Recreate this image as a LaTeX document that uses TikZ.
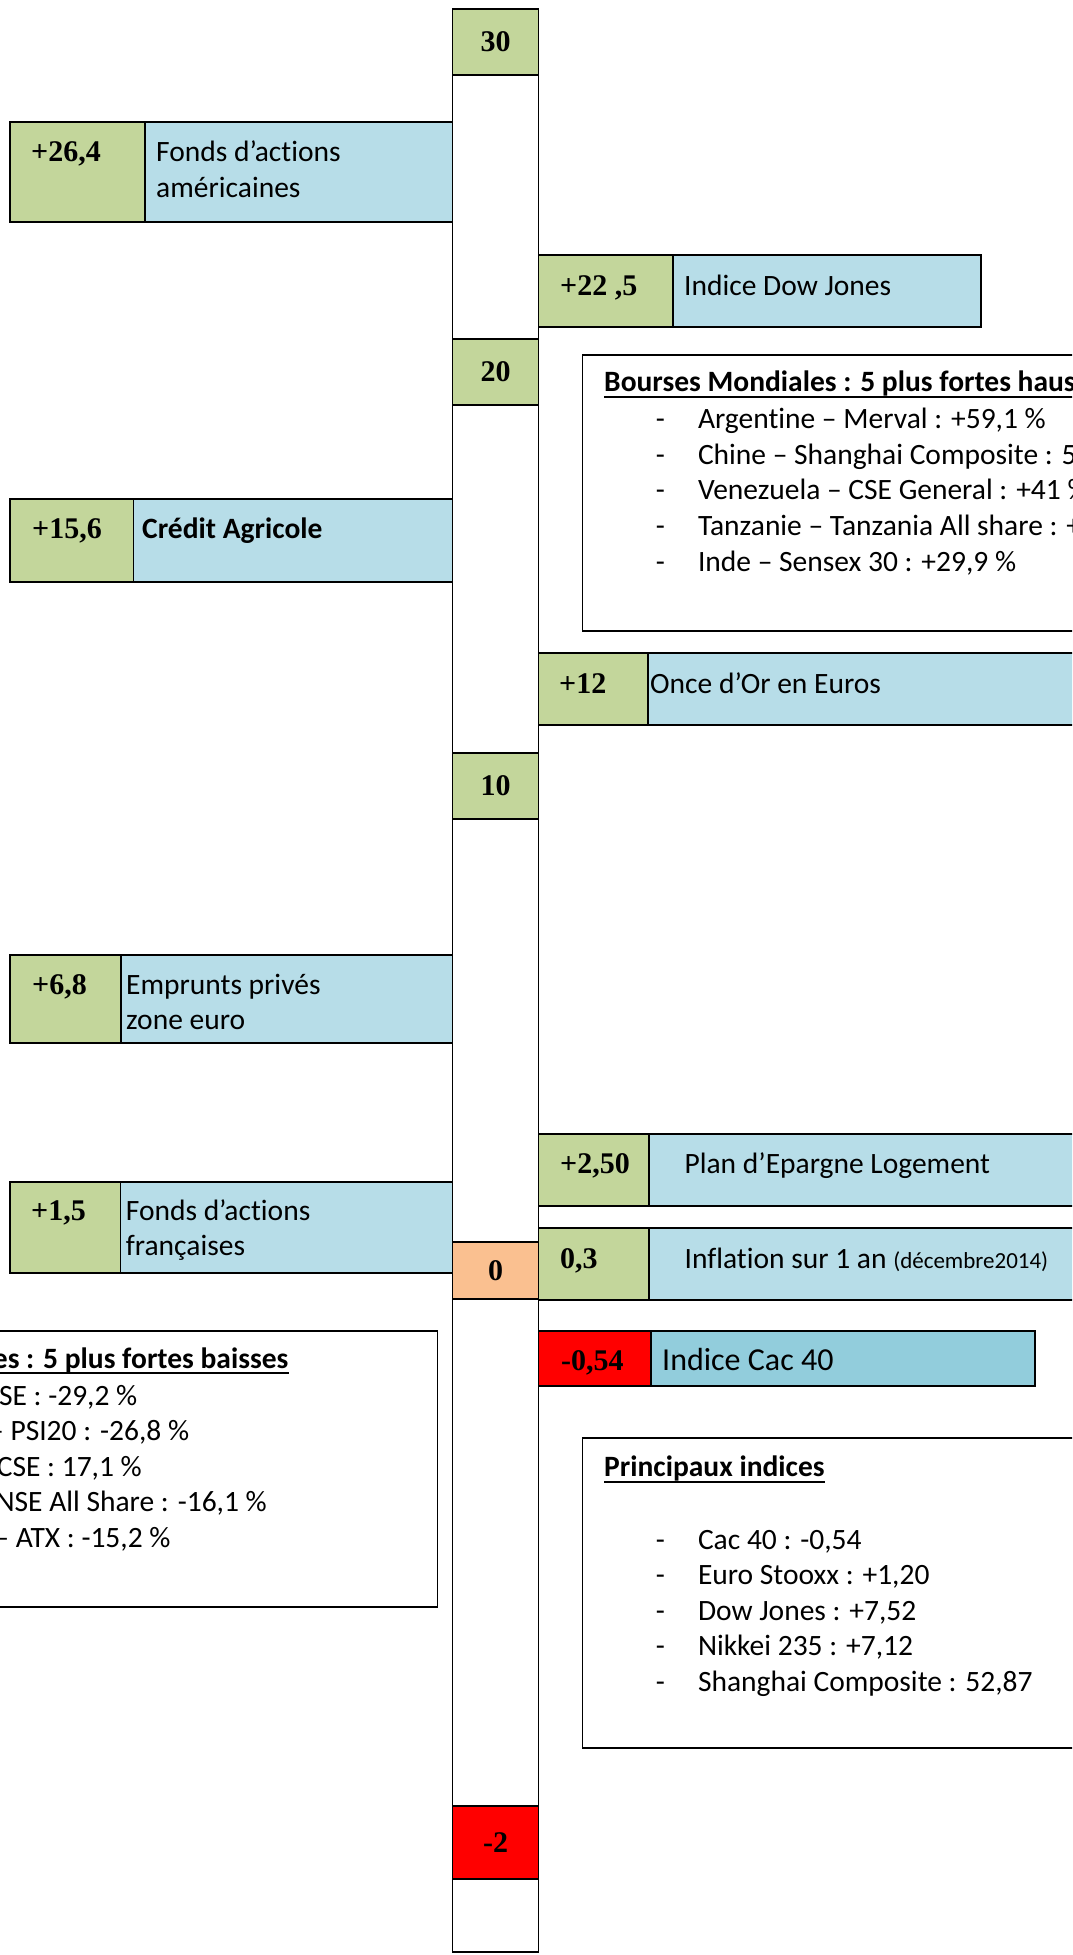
\documentclass[tikz,border=0pt]{standalone}
\usepackage{fontspec}
\setmainfont{Carlito}[Ligatures=NoCommon]
\newfontfamily\valfont{Liberation Serif}
\usetikzlibrary{positioning}
\definecolor{valgreen}{RGB}{195,214,155}
\definecolor{labblue}{RGB}{183,221,232}
\definecolor{cacblue}{RGB}{146,205,220}
\definecolor{zeroorange}{RGB}{250,192,144}
\tikzset{
  cell/.style={draw, line width=1.5pt, inner sep=0pt, outer sep=0pt},
  valbox/.style={cell, fill=valgreen},
  negbox/.style={cell, fill=red},
  labbox/.style={cell, fill=labblue},
  infobox/.style={cell, fill=white, anchor=north west},
  valtext/.style={font=\valfont\bfseries\fontsize{30}{36}\selectfont, inner sep=0pt},
  labtext/.style={font=\fontsize{29.5}{36}\selectfont, inner sep=0pt, anchor=base west},
  heading/.style={labtext, font=\bfseries\fontsize{29.5}{36}\selectfont},
  uline/.style={line width=1.8pt}
}

\begin{document}
\begin{tikzpicture}[x=1pt, y=-1pt]
  \useasboundingbox (0,0) rectangle (1072,1955);
  \clip (0,0) rectangle (1072,1955);

  % axe et graduations
  \node[cell, fill=white, anchor=north west, minimum width=86pt, minimum height=1943pt] (axis) at (452.5,9) {};
  \node[valbox, valtext, anchor=north west, minimum width=86pt, minimum height=66pt] (s30) at (452.5,9) {30};
  \node[valbox, valtext, anchor=north west, minimum width=86pt, minimum height=66pt] (s20) at (452.5,339) {20};
  \node[valbox, valtext, anchor=north west, minimum width=86pt, minimum height=66pt] (s10) at (452.5,753) {10};
  \node[cell, fill=zeroorange, valtext, anchor=north west, minimum width=86pt, minimum height=57pt] (s0) at (452.5,1242) {0};
  \node[negbox, valtext, anchor=north west, minimum width=86pt, minimum height=73pt] (sm2) at (452.5,1806) {-2};

  % barres a gauche
  \node[valbox, anchor=north west, minimum width=135pt, minimum height=100pt] (v264) at (10,122) {};
  \node[labbox, right=0pt of v264, minimum width=307.5pt, minimum height=100pt] (l264) {};
  \node[valtext, anchor=base west] (t264) at (31,161) {+26,4};
  \node[labtext] (n264a) at (156,161) {Fonds d’actions};
  \node[labtext] (n264b) at (156,197) {américaines};

  \node[valbox, anchor=north west, minimum width=123.3pt, minimum height=83pt] (v156) at (10,499) {};
  \node[labbox, right=0pt of v156, minimum width=319.2pt, minimum height=83pt] (l156) {};
  \node[valtext, anchor=base west] (t156) at (32,538) {+15,6};
  \node[heading] (n156) at (142,538) {Crédit Agricole};

  \node[valbox, anchor=north west, minimum width=111pt, minimum height=88pt] (v68) at (10,955) {};
  \node[labbox, right=0pt of v68, minimum width=331.5pt, minimum height=88pt] (l68) {};
  \node[valtext, anchor=base west] (t68) at (32,994) {+6,8};
  \node[labtext] (n68a) at (126,994) {Emprunts privés};
  \node[labtext] (n68b) at (126,1029) {zone euro};

  \node[valbox, anchor=north west, minimum width=110.7pt, minimum height=91pt] (v15) at (10,1182) {};
  \node[labbox, right=0pt of v15, minimum width=331.8pt, minimum height=91pt] (l15) {};
  \node[valtext, anchor=base west] (t15) at (31,1220) {+1,5};
  \node[labtext] (n15a) at (125.7,1220) {Fonds d’actions};
  \node[labtext] (n15b) at (125.7,1255) {françaises};

  % barres a droite
  \node[valbox, anchor=north west, minimum width=134.5pt, minimum height=72pt] (v225) at (538.5,255) {};
  \node[labbox, right=0pt of v225, minimum width=308pt, minimum height=72pt] (l225) {};
  \node[valtext, anchor=base west] (t225) at (560,295) {+22 ,5};
  \node[labtext] (n225) at (684,295) {Indice Dow Jones};

  \node[valbox, anchor=north west, minimum width=109.5pt, minimum height=72pt] (v12) at (538.5,653) {};
  \node[labbox, right=0pt of v12, minimum width=452pt, minimum height=72pt] (l12) {};
  \node[valtext, anchor=base west] (t12) at (559,693) {+12};
  \node[labtext] (n12) at (650,693) {Once d’Or en Euros};

  \node[valbox, anchor=north west, minimum width=110.5pt, minimum height=72pt] (v250) at (538.5,1134) {};
  \node[labbox, right=0pt of v250, minimum width=451pt, minimum height=72pt] (l250) {};
  \node[valtext, anchor=base west] (t250) at (560,1173) {+2,50};
  \node[labtext] (n250) at (684.4,1173) {Plan d’Epargne Logement};

  \node[valbox, anchor=north west, minimum width=110.5pt, minimum height=72pt] (v03) at (538.5,1228) {};
  \node[labbox, right=0pt of v03, minimum width=451pt, minimum height=72pt] (l03) {};
  \node[valtext, anchor=base west] (t03) at (560,1268) {0,3};
  \node[labtext] (n03) at (684.4,1268) {Inflation sur 1 an {\fontsize{23}{28}\selectfont(décembre2014)}};

  \node[negbox, anchor=north west, minimum width=112.5pt, minimum height=55pt] (v054) at (538.5,1331) {};
  \node[cell, fill=cacblue, right=0pt of v054, minimum width=384pt, minimum height=55pt] (l054) {};
  \node[valtext, anchor=base west] (t054) at (561,1370) {-0,54};
  \node[labtext, font=\fontsize{32}{38}\selectfont] (n054) at (662,1370) {Indice Cac 40};

  % encadres
  \node[infobox, minimum width=520pt, minimum height=276pt] (hausses) at (582.7,355) {};
  \node[heading] (hTitle) at (604,391.7) {Bourses Mondiales : 5 plus fortes haus};
  \draw[uline] ([yshift=-5pt]hTitle.base west) -- ([yshift=-5pt]hTitle.base east);
  \foreach \txt [count=\i] in {{Argentine – Merval : +59,1 \%}, {Chine – Shanghai Composite : 5},
      {Venezuela – CSE General : +41 \%}, {Tanzanie – Tanzania All share : +}, {Inde – Sensex 30 : +29,9 \%}} {
    \node[labtext] (hd\i) at (655.6,392.5+35.8*\i) {-};
    \node[labtext] (h\i) at (697.8,392.5+35.8*\i) {\txt};
  }

  \node[infobox, minimum width=457.5pt, minimum height=276pt] (baisses) at (-20,1331) {};
  \node[heading, anchor=base east] (bTitle) at (288.6,1368.3) {es : 5 plus fortes baisses};
  \draw[uline] ([yshift=-5pt]bTitle.base west) -- ([yshift=-5pt]bTitle.base east);
  \node[labtext, anchor=base east] (b1) at (137.5,1405) {ASE : -29,2 \%};
  \node[labtext, anchor=base east] (b2) at (189.3,1440.5) {– PSI20 : -26,8 \%};
  \node[labtext, anchor=base east] (b3) at (142,1476) {CSE : 17,1 \%};
  \node[labtext, anchor=base east] (b4) at (267,1511.7) {NSE All Share : -16,1 \%};
  \node[labtext, anchor=base east] (b5) at (170.7,1547.7) {– ATX : -15,2 \%};

  \node[infobox, minimum width=520pt, minimum height=310pt] (indices) at (582.7,1438) {};
  \node[heading] (iTitle) at (604,1476.7) {Principaux indices};
  \draw[uline] ([yshift=-5pt]iTitle.base west) -- ([yshift=-5pt]iTitle.base east);
  \foreach \txt [count=\i] in {{Cac 40 : -0,54}, {Euro Stooxx : +1,20}, {Dow Jones : +7,52},
      {Nikkei 235 : +7,12}, {Shanghai Composite : 52,87}} {
    \node[labtext] (id\i) at (655.6,1513.5+35.5*\i) {-};
    \node[labtext] (i\i) at (697.8,1513.5+35.5*\i) {\txt};
  }
\end{tikzpicture}
\end{document}
